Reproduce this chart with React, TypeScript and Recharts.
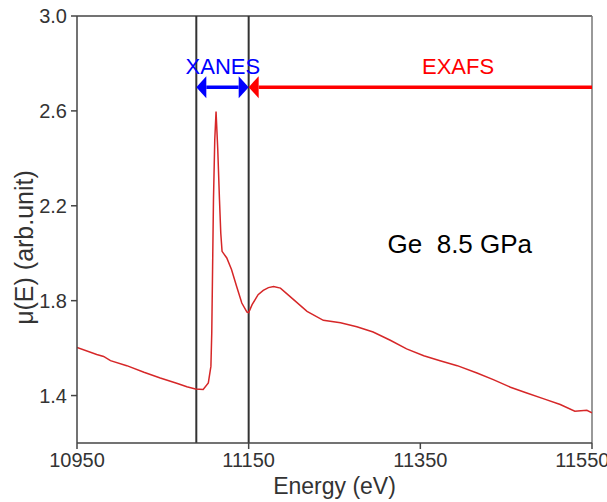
import { LineChart, Line, XAxis, YAxis, ReferenceLine, ReferenceDot } from "recharts";

// energy (eV) and absorption mu(E)
const energy = [
  10950, 10973, 10981, 10989, 11008, 11028, 11047, 11067, 11078, 11088, 11097, 11103, 11106, 11107,
  11108, 11109, 11110.5, 11112, 11114, 11116, 11117.5, 11119, 11124.5, 11130, 11136, 11142, 11148,
  11150, 11154, 11161, 11167, 11173, 11179, 11187, 11198, 11218, 11237, 11257, 11276, 11295, 11315,
  11334, 11354, 11373, 11393, 11416, 11435, 11455, 11474, 11494, 11513, 11530, 11544, 11550,
];
const mu = [
  1.603, 1.573, 1.565, 1.547, 1.526, 1.498, 1.474, 1.451, 1.437, 1.428, 1.426, 1.453, 1.523, 1.664,
  1.944, 2.225, 2.478, 2.597, 2.436, 2.225, 2.085, 2.008, 1.98, 1.931, 1.86, 1.79, 1.752,
  1.75, 1.783, 1.825, 1.843, 1.855, 1.86, 1.853, 1.818, 1.755, 1.717, 1.707, 1.69, 1.668, 1.633,
  1.597, 1.568, 1.547, 1.526, 1.495, 1.467, 1.435, 1.411, 1.386, 1.362, 1.334, 1.338, 1.327,
];

const xTicks = [10950, 11150, 11350, 11550];
const yTicks = [1.4, 1.8, 2.2, 2.6, 3.0];

const edgeLines = [11089, 11150]; // XANES window
const arrowLevel = 2.7;
const xanesRange = [11089, 11150];
const exafsRange = [11150, 11550];

const data = energy.map((e, i) => ({ e, mu: mu[i] }));

const FONT = "'Liberation Sans', Arial, sans-serif";
const AXIS = "#444";

// arrow shape: shaft plus filled triangular heads at requested ends
const arrowShape = (color: string, left: boolean, right: boolean) => (p: any) => {
  const { x1, y1, x2, y2 } = p;
  const xa = Math.min(x1, x2);
  const xb = Math.max(x1, x2);
  const y = (y1 + y2) / 2;
  const len = 10;
  const hw = 11;
  return (
    <g>
      <line x1={xa + (left ? len : 0)} y1={y} x2={xb - (right ? len : 0)} y2={y} stroke={color} strokeWidth={3.5} />
      {left && <polygon points={`${xa},${y} ${xa + len},${y - hw} ${xa + len},${y + hw}`} fill={color} />}
      {right && <polygon points={`${xb},${y} ${xb - len},${y - hw} ${xb - len},${y + hw}`} fill={color} />}
    </g>
  );
};

export default function App() {
  return (
    <div style={{ position: "absolute", left: 0, top: 0, background: "#fff" }}>
      <LineChart width={607} height={502} data={data} margin={{ top: 16, right: 15, bottom: 0, left: 0 }}>
        <XAxis
          dataKey="e"
          type="number"
          domain={[10950, 11550]}
          ticks={xTicks}
          allowDataOverflow
          height={59}
          stroke={AXIS}
          strokeWidth={1.5}
          tickSize={6}
          tickMargin={4}
          tick={{ fill: "#333", fontSize: 20, fontFamily: FONT }}
          label={{ value: "Energy (eV)", position: "insideBottom", offset: 8, fill: "#333", fontSize: 23, fontFamily: FONT }}
        />
        <YAxis
          type="number"
          domain={[1.2, 3.0]}
          ticks={yTicks}
          allowDataOverflow
          width={77}
          stroke={AXIS}
          strokeWidth={1.5}
          tickSize={6}
          tickMargin={4}
          tickFormatter={(v: number) => v.toFixed(1)}
          tick={{ fill: "#333", fontSize: 20, fontFamily: FONT }}
          label={{
            content: (p: any) => {
              const vb = p.viewBox || { y: 16, height: 427 };
              const cx = 24;
              const cy = vb.y + vb.height / 2 + 18;
              return (
                <text
                  x={cx}
                  y={cy}
                  transform={`rotate(-90 ${cx} ${cy})`}
                  textAnchor="middle"
                  dominantBaseline="central"
                  fill="#333"
                  fontSize={25}
                  fontFamily={FONT}
                >
                  μ(E) (arb.unit)
                </text>
              );
            },
          }}
        />
        {/* top and right spines */}
        <ReferenceLine y={3.0} stroke={AXIS} strokeWidth={1.5} />
        <ReferenceLine x={11550} stroke="#777" strokeWidth={1.5} />

        {edgeLines.map((x) => (
          <ReferenceLine key={x} x={x} stroke="#333" strokeWidth={2} />
        ))}

        <Line
          type="linear"
          dataKey="mu"
          stroke="#d62728"
          strokeWidth={1.5}
          dot={false}
          isAnimationActive={false}
        />

        <ReferenceLine
          segment={[{ x: exafsRange[0], y: arrowLevel }, { x: exafsRange[1], y: arrowLevel }]}
          shape={arrowShape("#ff0000", true, false)}
        />
        <ReferenceLine
          segment={[{ x: xanesRange[0], y: arrowLevel }, { x: xanesRange[1], y: arrowLevel }]}
          shape={arrowShape("#0000ff", true, true)}
        />

        <ReferenceDot
          x={11120}
          y={2.787}
          r={0}
          stroke="none"
          label={{ value: "XANES", position: "center", fill: "#0000ff", fontSize: 22, fontFamily: FONT }}
        />
        <ReferenceDot
          x={11394}
          y={2.787}
          r={0}
          stroke="none"
          label={{ value: "EXAFS", position: "center", fill: "#ff0000", fontSize: 22, fontFamily: FONT }}
        />
        <ReferenceDot
          x={11396}
          y={2.04}
          r={0}
          stroke="none"
          label={{ value: "Ge\u00a0 8.5 GPa", position: "center", fill: "#000", fontSize: 26, fontFamily: FONT }}
        />
      </LineChart>
    </div>
  );
}
